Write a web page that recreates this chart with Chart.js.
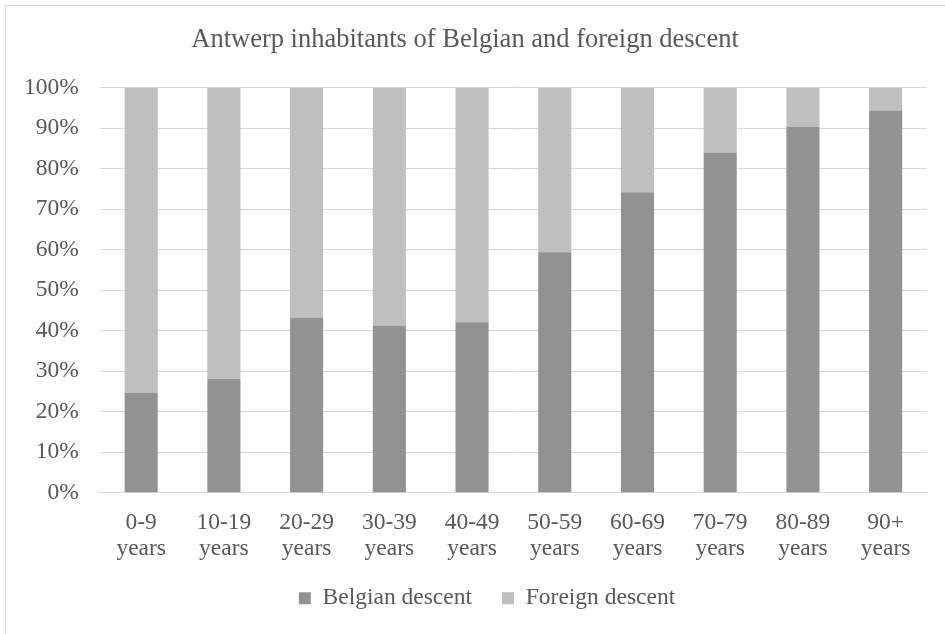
<!DOCTYPE html>
<html>
<head>
<meta charset="utf-8">
<script src="https://cdn.jsdelivr.net/npm/chart.js@4"></script>
<style>
  html, body { margin: 0; padding: 0; background: #fff; overflow: hidden; }
  #frame { position: absolute; left: 5px; top: 5px; width: 1000px; height: 700px; border: 1px solid #d9d9d9; box-sizing: border-box; }
  #wrap { position: absolute; left: 0; top: 0; width: 963px; height: 643px; }
</style>
</head>
<body>
<div id="frame"></div>
<div id="wrap"><canvas id="myChart"></canvas></div>
<script>
let ageGroups = [["0-9", "years"], ["10-19", "years"], ["20-29", "years"], ["30-39", "years"], ["40-49", "years"],
    ["50-59", "years"], ["60-69", "years"], ["70-79", "years"], ["80-89", "years"], ["90+", "years"]]
let belgian = [24.7, 28.1, 43.3, 41.3, 42.1, 59.4, 74.2, 84.0, 90.4, 94.4]
let foreign = [75.3, 71.9, 56.7, 58.7, 57.9, 40.6, 25.8, 16.0, 9.6, 5.6]
let yTicks = [0, 10, 20, 30, 40, 50, 60, 70, 80, 90, 100]

let serif = "'Liberation Serif', 'Times New Roman', serif"
let textColor = "#595959"

// pull the legend up under the axis labels and a bit to the right, like the Excel original
let nudgeLegend = {
    id: "nudgeLegend",
    afterLayout: chart => {
        let lg = chart.legend
        lg.top -= 22
        lg.bottom -= 22
        lg.left += 22
        lg.right += 22
    },
}

new Chart("myChart", {
    type: "bar",
    data: {
        labels: ageGroups,
        datasets: [
            {
                label: "Belgian descent",
                data: belgian,
                backgroundColor: "#929292",
            },
            {
                label: "Foreign descent",
                data: foreign,
                backgroundColor: "#bfbfbf",
            },
        ]
    },
    options: {
        responsive: true,
        maintainAspectRatio: false,
        animation: false,
        datasets: { bar: { categoryPercentage: 1, barPercentage: 0.4 } },
        layout: { padding: { left: 3, right: 36, top: 0, bottom: 1 } },
        plugins: {
            title: {
                display: true,
                text: "Antwerp inhabitants of Belgian and foreign descent",
                color: textColor,
                font: { family: serif, size: 26.5, weight: "normal" },
                padding: { top: 24, bottom: 32 },
            },
            legend: {
                position: "bottom",
                labels: {
                    color: textColor,
                    font: { family: serif, size: 23.5 },
                    boxWidth: 12,
                    boxHeight: 12,
                    padding: 30,
                },
            },
            tooltip: { enabled: false },
        },
        scales: {
            x: {
                stacked: true,
                grid: { display: false, drawTicks: false },
                border: { color: "#d9d9d9", width: 1 },
                ticks: {
                    color: textColor,
                    font: { family: serif, size: 23.5, lineHeight: 1.1 },
                    maxRotation: 0,
                    autoSkip: false,
                    padding: 17,
                },
            },
            y: {
                stacked: true,
                min: 0,
                max: 100,
                afterBuildTicks: axis => { axis.ticks = yTicks.map(v => ({ value: v })) },
                grid: { color: "#d9d9d9", drawTicks: false },
                border: { display: false },
                ticks: {
                    color: textColor,
                    font: { family: serif, size: 23.5 },
                    padding: 21,
                    callback: v => v + "%",
                },
            },
        },
    },
    plugins: [nudgeLegend],
})
</script>
</body>
</html>
